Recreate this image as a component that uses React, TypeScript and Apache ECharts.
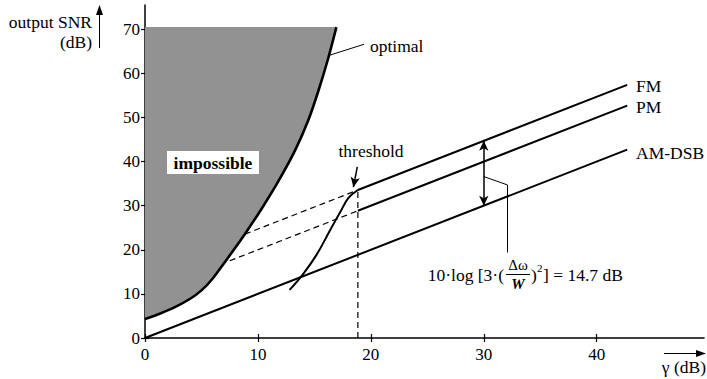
import React, { useEffect, useRef } from "react";
import * as echarts from "echarts";

const FONT = "'Liberation Serif', 'DejaVu Serif', serif";

const xTicks = [0, 10, 20, 30, 40];
const yTicks = [0, 10, 20, 30, 40, 50, 60, 70];

// optimal boundary (gamma dB, output SNR dB)
const optimalGamma = [0, 1.3, 2.65, 4.0, 5.0, 6.0, 7.1, 8.85, 10.3, 11.8, 13.3, 14.45, 15.35, 16.2, 16.95];
const optimalSNR = [4.3, 5.5, 7.0, 8.9, 10.8, 13.5, 17.3, 23.6, 29.2, 35.5, 42.6, 49.3, 56.0, 63.2, 70.5];
const regionTop = 70.5;

// FM below threshold
const thresholdGamma = [12.8, 14.0, 15.2, 16.4, 17.3, 18.0, 18.85];
const thresholdSNR = [10.9, 14.5, 18.9, 24.5, 28.6, 31.7, 33.55];

const fmLine = [[18.85, 33.55], [42.7, 57.4]];
const pmLine = [[18.85, 28.85], [42.7, 52.7]];
const amLine = [[0, 0], [42.7, 42.7]];
const fmDashed = [[8.85, 23.55], [18.85, 33.55]];
const pmDashed = [[7.5, 17.5], [18.85, 28.85]];
const thresholdVertical = [[18.85, 0], [18.85, 33.55]];
const gainArrow = [[30, 44.7], [30, 30]];
const gainLeader = [[30, 36.6], [32.1, 34.7], [32.1, 19.4]];
const optimalLeader = [[16.2, 64.0], [19.4, 66.6]];
const thresholdArrow = [[18.8, 38.8], [18.45, 34.2]];

export default function App() {
  const ref = useRef<HTMLDivElement>(null);
  useEffect(() => {
    if (!ref.current) return;
    const chart = echarts.init(ref.current, null, { renderer: "svg" });
    const regionData: number[][] = [[0, regionTop]];
    optimalGamma.forEach((g, i) => regionData.push([g, optimalSNR[i]]));
    const optimalData = optimalGamma.map((g, i) => [g, optimalSNR[i]]);
    const thresholdData = thresholdGamma.map((g, i) => [g, thresholdSNR[i]]);

    const solid = (data: number[][], width = 2) => ({
      type: "line",
      data,
      showSymbol: false,
      symbol: "none",
      silent: true,
      lineStyle: { color: "#000", width },
      z: 5,
    });
    const dashed = (data: number[][]) => ({
      type: "line",
      data,
      showSymbol: false,
      symbol: "none",
      silent: true,
      lineStyle: { color: "#000", width: 1.2, type: [6, 4] },
      z: 4,
    });

    const axisCommon = {
      type: "value",
      splitLine: { show: false },
    };
    const label = (text: string, x: number, y: number, align = "left", size = 17.5) => ({
      type: "text",
      x,
      y,
      z: 21,
      style: { text, font: `${size}px ${FONT}`, fill: "#000", align, verticalAlign: "middle" },
    });

    chart.setOption({
      animation: false,
      backgroundColor: "#fff",
      grid: { left: 145, top: 5, width: 559, height: 333, containLabel: false, outerBoundsMode: "none" },
      xAxis: [
        {
          ...axisCommon,
          min: 0,
          max: 49.5,
          axisLine: { lineStyle: { color: "#000", width: 1.5 } },
          axisTick: { customValues: xTicks, length: 4, lineStyle: { color: "#000", width: 1.2 } },
          axisLabel: { customValues: xTicks, margin: 8, color: "#000", fontFamily: FONT, fontSize: 17 },
        },
        {
          ...axisCommon,
          min: 0,
          max: 49.5,
          position: "bottom",
          axisLine: { show: false },
          axisTick: { customValues: xTicks, inside: true, length: 4, lineStyle: { color: "#000", width: 1.2 } },
          axisLabel: { show: false },
        },
      ],
      yAxis: [
        {
          ...axisCommon,
          min: 0,
          max: 75.5,
          axisLine: { lineStyle: { color: "#000", width: 1.5 } },
          axisTick: { customValues: yTicks, length: 4, lineStyle: { color: "#000", width: 1.2 } },
          axisLabel: { customValues: yTicks, margin: 5, color: "#000", fontFamily: FONT, fontSize: 17 },
        },
        {
          ...axisCommon,
          min: 0,
          max: 75.5,
          position: "left",
          axisLine: { show: false },
          axisTick: { customValues: yTicks, inside: true, length: 4, lineStyle: { color: "#000", width: 1.2 } },
          axisLabel: { show: false },
        },
      ],
      series: [
        {
          type: "custom",
          silent: true,
          z: 1,
          data: regionData,
          encode: { x: 0, y: 1 },
          renderItem: (params: any, api: any) => {
            if (params.dataIndex !== 0) return null;
            const pts = regionData.map((p) => api.coord(p));
            return {
              type: "polygon",
              shape: { points: pts },
              style: { fill: "#929292", stroke: "none" },
            };
          },
        },
        { ...solid(optimalData, 2.6), smooth: 0.2 },
        { ...solid(thresholdData, 2), smooth: 0.4 },
        solid(fmLine),
        solid(pmLine),
        solid(amLine),
        dashed(fmDashed),
        dashed(pmDashed),
        dashed(thresholdVertical),
        solid(gainLeader, 1),
        solid(optimalLeader, 1),
        {
          type: "line",
          data: [],
          silent: true,
          markLine: {
            silent: true,
            animation: false,
            label: { show: false },
            lineStyle: { color: "#000", type: "solid", width: 1.5 },
            symbol: ["arrow", "arrow"],
            symbolSize: [7, 10],
            data: [
              [{ coord: gainArrow[0] }, { coord: gainArrow[1] }],
              [
                { coord: thresholdArrow[0], symbol: "none" },
                { coord: thresholdArrow[1], symbol: "arrow" },
              ],
            ],
          },
        },
      ],
      graphic: [
        {
          type: "rect",
          shape: { x: 167, y: 151, width: 92, height: 23 },
          style: { fill: "#fff" },
          z: 20,
        },
        {
          type: "text",
          x: 213,
          y: 163,
          z: 21,
          style: { text: "impossible", font: `bold 17.5px ${FONT}`, fill: "#000", align: "center", verticalAlign: "middle" },
        },
        label("optimal", 370, 46),
        label("threshold", 371, 151, "center"),
        label("FM", 636, 86),
        label("PM", 636, 107),
        label("AM-DSB", 636, 153),
        label("output SNR", 92, 22, "right"),
        label("(dB)", 92, 42, "right"),
        {
          type: "line",
          shape: { x1: 99.5, y1: 14, x2: 99.5, y2: 48 },
          style: { stroke: "#000", lineWidth: 1 },
        },
        {
          type: "polygon",
          shape: { points: [[99.5, 5], [96, 15], [103, 15]] },
          style: { fill: "#000" },
        },
        label("γ (dB)", 706, 367, "right"),
        {
          type: "line",
          shape: { x1: 664, y1: 353.5, x2: 697, y2: 353.5 },
          style: { stroke: "#000", lineWidth: 1 },
        },
        {
          type: "polygon",
          shape: { points: [[706, 353.5], [696, 350], [696, 357]] },
          style: { fill: "#000" },
        },
        // formula
        label("10·log [3·(", 504, 275, "right", 17.5),
        label("Δω", 518, 265, "center", 15),
        {
          type: "line",
          shape: { x1: 506, y1: 274.5, x2: 530, y2: 274.5 },
          style: { stroke: "#000", lineWidth: 1 },
        },
        {
          type: "text",
          x: 518,
          y: 284,
          z: 21,
          style: { text: "W", font: `italic bold 15px ${FONT}`, fill: "#000", align: "center", verticalAlign: "middle" },
        },
        label(")", 531, 275, "left", 17.5),
        label("2", 537, 268, "left", 11),
        label("] = 14.7 dB", 543, 275, "left", 17.5),
      ],
    });
    return () => chart.dispose();
  }, []);
  return (
    <div
      ref={ref}
      style={{ position: "fixed", left: 0, top: 0, width: 707, height: 379, background: "#fff" }}
    />
  );
}
